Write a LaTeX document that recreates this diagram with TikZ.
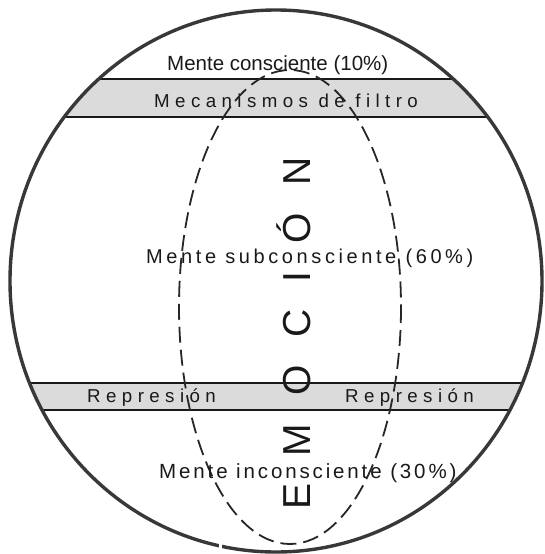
\documentclass[tikz,border=0pt]{standalone}
\usepackage{fontspec}
\setmainfont{Liberation Sans}
\newfontfamily\filtrofont[LetterSpace=29]{Liberation Sans}
\newfontfamily\subfont[LetterSpace=18]{Liberation Sans}
\newfontfamily\infont[LetterSpace=14]{Liberation Sans}
\newfontfamily\emofont[LetterSpace=71]{Liberation Sans}

\begin{document}
\begin{tikzpicture}[x=1pt, y=-1pt,
  lbl/.style={inner sep=0pt, anchor=base west, text=black!90},
  band/.style={fill=black!14},
  edge/.style={line width=1.9pt, black!90},
  rim/.style={line width=3.4pt, black!78},
  mood/.style={line width=1.8pt, black!85, dash pattern=on 16pt off 7pt}]
  \useasboundingbox (0,0) rectangle (545,554);

  % bands
  \begin{scope}
    \clip (276,281) ellipse [x radius=266, y radius=271];
    \fill[band] (0,79) rectangle (545,117);
    \fill[band] (0,383) rectangle (545,410);
    \draw[edge] (0,79) -- (545,79);
    \draw[edge] (0,117) -- (545,117);
    \draw[edge] (0,383) -- (545,383);
    \draw[edge] (0,410) -- (545,410);
  \end{scope}

  % outer circle and emotion ellipse
  \draw[rim] (276,281) ellipse [x radius=266, y radius=271];
  \fill[white] (218.5,538) rectangle (221.5,556);
  \draw[mood] (290,307) ellipse [x radius=111, y radius=237];

  \node[lbl, font=\fontsize{20.5}{24}\selectfont] (mc) at (167,70) {Mente consciente (10\%)};
  \node[lbl, font=\filtrofont\fontsize{18.7}{22}\selectfont] (mf) at (154,107) {Mecanismos de filtro};
  \node[lbl, font=\subfont\fontsize{20}{24}\selectfont] (ms) at (146,263) {Mente subconsciente (60\%)};
  \node[lbl, font=\filtrofont\fontsize{18.7}{22}\selectfont] (rl) at (87,402) {Represión};
  \node[lbl, font=\filtrofont\fontsize{18.7}{22}\selectfont] (rr) at (345,402) {Represión};
  \node[lbl, font=\infont\fontsize{20.5}{24}\selectfont] (mi) at (159,478) {Mente inconsciente (30\%)};
  \node[lbl, rotate=90, font=\emofont\fontsize{39}{44}\selectfont] (em) at (310,510) {EMOCIÓN};
\end{tikzpicture}
\end{document}
